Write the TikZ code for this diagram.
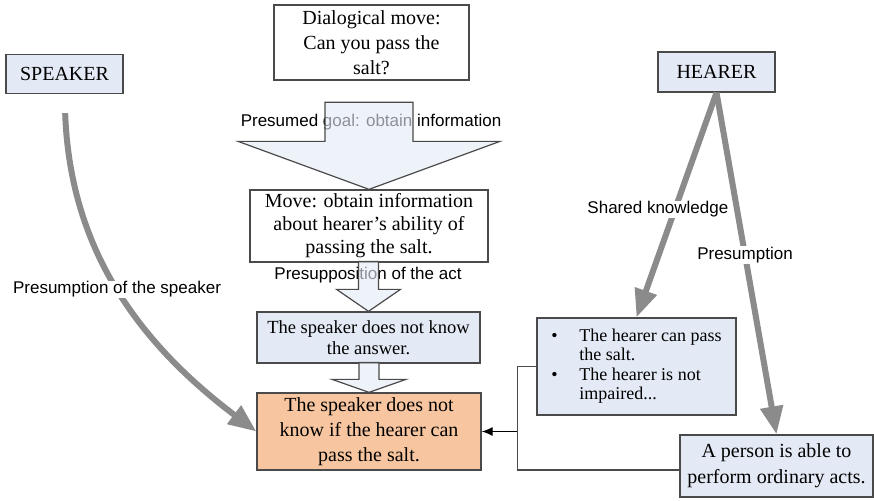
\documentclass[tikz,border=0pt]{standalone}
\usepackage{fontspec}
\setmainfont{Liberation Serif}
\setsansfont{Liberation Sans}
\usetikzlibrary{arrows.meta}
\definecolor{boxblue}{HTML}{E4EAF5}
\definecolor{boxorange}{HTML}{F7C6A0}
\definecolor{arrowgray}{HTML}{8B8B8B}
\definecolor{edgegray}{HTML}{4A4A4A}

\begin{document}
\begin{tikzpicture}[x=1pt, y=-1pt, >={Latex[length=11pt, width=9pt]}, semithick,
  box/.style={draw=edgegray, line width=1.3pt, inner sep=0pt, align=center, font=\fontsize{20}{25}\selectfont},
  bluebox/.style={box, fill=boxblue},
  lbl/.style={font=\sffamily\fontsize{17}{20}\selectfont, inner sep=1pt},
  presarrow/.style={draw=arrowgray, line width=6pt, -{Triangle[length=28pt, width=22pt]}},
  blockarrow/.style={draw=edgegray, line width=1.2pt, fill=boxblue, fill opacity=.62, line join=miter}]
  \useasboundingbox (0,0) rectangle (874,500);

  % boxes
  \node[bluebox, minimum width=117pt, minimum height=39pt] (speaker) at (64.5,74) {SPEAKER};
  \node[bluebox, minimum width=117pt, minimum height=40pt] (hearer) at (716.5,72) {HEARER};
  \node[box, minimum width=195pt, minimum height=75pt] (dialog) at (371.5,42.5) {Dialogical move:\\Can you pass the\\salt?};
  \node[box, minimum width=238pt, minimum height=72pt, font=\fontsize{20}{23}\selectfont] (move) at (369,226)
    {Move: obtain information\\about hearer's ability of\\passing the salt.};
  \node[bluebox, minimum width=223pt, minimum height=51pt, font=\fontsize{18.5}{21}\selectfont] (answer) at (368.5,337.5)
    {The speaker does not know\\the answer.};
  \node[box, fill=boxorange, minimum width=224pt, minimum height=77pt] (target) at (369,431.5)
    {The speaker does not\\know if the hearer can\\pass the salt.};
  \node[bluebox, minimum width=199pt, minimum height=97pt, font=\fontsize{18}{19.5}\selectfont] (ability) at (636.5,366.5)
    {\begin{tabular}{@{}l@{\hspace{21.7pt}}l@{}}
      \textbullet & The hearer can pass\\
                  & the salt.\\
      \textbullet & The hearer is not\\
                  & impaired...
    \end{tabular}};
  \node[bluebox, minimum width=193pt, minimum height=62pt, font=\fontsize{20}{26}\selectfont] (person) at (776.5,466)
    {A person is able to\\perform ordinary acts.};

  % block arrows down the middle
  \node[lbl] (goal) at (371,122) {Presumed goal: obtain information};
  \draw[blockarrow] (move.north) -- ++(-131,-48) -- ++(87,0) -- ++(0,-39) -- ++(88,0) -- ++(0,39) -- ++(87,0) -- cycle;
  \node[lbl] (presup) at (368,275) {Presupposition of the act};
  \draw[blockarrow] (answer.north) -- ++(-32,-22) -- ++(22,0) -- ++(0,-28) -- ++(20,0) -- ++(0,28) -- ++(22,0) -- cycle;
  \draw[blockarrow] (target.north) -- ++(-37,-13) -- ++(27,0) -- ++(0,-17) -- ++(20,0) -- ++(0,17) -- ++(27,0) -- cycle;

  % presumptions
  \draw[presarrow, shorten <=19pt] (speaker.south) to[out=-88, in=143]
    node[lbl, fill=white, yshift=-4pt] (spklbl) {Presumption of the speaker} (target.west);
  \draw[presarrow] (hearer.south) -- node[lbl, fill=white, pos=.52, xshift=-17pt] (sharedlbl) {Shared knowledge} (ability.north);
  \draw[presarrow] (hearer.south) -- node[lbl, fill=white, pos=.475] (presumlbl) {Presumption} (person.north);

  % link to the conclusion
  \draw[edgegray, line width=1.2pt] (ability.west) -- ++(-19,0) coordinate (fork) |- ([yshift=-4pt]person.west);
  \draw[->, line width=1.2pt] (fork |- target.east) -- (target.east);
\end{tikzpicture}
\end{document}
